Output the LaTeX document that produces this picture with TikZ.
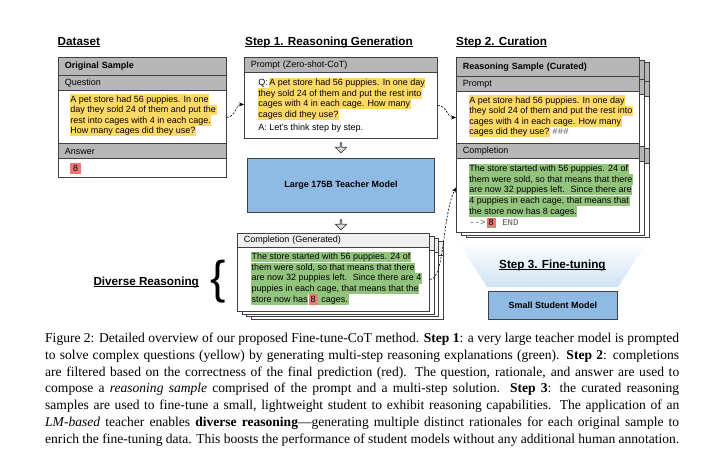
\documentclass[tikz,border=0pt]{standalone}
\usepackage{fontspec}
\setmainfont{Liberation Serif}
\setsansfont{Liberation Sans}
\setmonofont{Liberation Mono}
\usetikzlibrary{shapes.arrows,arrows.meta}
\definecolor{edge}{HTML}{404040}
\definecolor{hgray}{HTML}{B7B7B7}
\definecolor{lgray}{HTML}{EFEFEF}
\definecolor{agray}{HTML}{DDDDDD}
\definecolor{mgray}{HTML}{555555}
\definecolor{qyellow}{HTML}{FFD966}
\definecolor{cgreen}{HTML}{93C47D}
\definecolor{ared}{HTML}{F07777}
\definecolor{tblue}{HTML}{8EBAE3}
\definecolor{sblue}{HTML}{CFE2F3}
\newcommand\fs{\sffamily\fontsize{9}{10.5}\selectfont}
\newcommand\ttl{\sffamily\bfseries\fontsize{11.7}{13}\selectfont}
\newcommand\capfont{\rmfamily\fontsize{13.55}{16.74}\selectfont\hyphenpenalty=10000\tolerance=9999}
\tikzset{
  box/.style={draw=edge, fill=white, anchor=north west, inner sep=0, line width=0.9},
  row/.style={draw=edge, fill=hgray, anchor=north west, inner xsep=6.5, inner ysep=0, align=left, font=\fs, line width=0.9},
  qline/.style={fill=qyellow, anchor=north west, inner xsep=0.6, inner ysep=0, text height=7.8, text depth=2.7, font=\fs},
  cline/.style={qline, fill=cgreen},
  aline/.style={qline, fill=ared, inner xsep=2.2},
  pline/.style={qline, fill=none},
  mline/.style={pline, font=\fs\ttfamily, text=mgray},
  model/.style={draw=edge, fill=tblue, anchor=north west, font=\fs\bfseries, line width=0.9},
  down/.style={single arrow, draw=edge, fill=agray, shape border rotate=270, minimum height=10, minimum width=11, single arrow head extend=2.5, inner sep=0, line width=0.7},
  ttlnode/.style={anchor=base west, inner sep=0, font=\ttl},
  feed/.style={dash pattern=on 2pt off 1.5pt, line width=0.6, -{Stealth[length=5pt,width=4pt]}}
}
\begin{document}
\begin{tikzpicture}[x=1pt,y=-1pt]
  \useasboundingbox (0,0) rectangle (711,459);
  % titles
  \node[ttlnode] (t0) at (57.5,45) {\underline{\smash{Dataset}}};
  \node[ttlnode] (t1) at (245,45) {\underline{\smash{Step 1. Reasoning Generation}}};
  \node[ttlnode] (t2) at (456,45) {\underline{\smash{Step 2. Curation}}};
  \node[ttlnode] (dr) at (93.3,285) {\underline{\smash{Diverse Reasoning}}};
  \node[anchor=base west, inner sep=0, font=\sffamily\fontsize{46}{46}\selectfont] (brace) at (210.5,293) {\{};
  % original sample
  \node[box, minimum width=168, minimum height=120] (orig) at (58,57) {};
  \node[row, text width=155, minimum height=18] (oh) at (58,57) {\bfseries Original Sample};
  \node[row, text width=155, minimum height=15] (oqh) at (58,75) {Question};
  \node[qline] (oq1) at (69.5,94) {A pet store had 56 puppies. In one};
  \node[qline] (oq2) at (69.5,104.5) {day they sold 24 of them and put the};
  \node[qline] (oq3) at (69.5,115) {rest into cages with 4 in each cage.};
  \node[qline] (oq4) at (69.5,125.5) {How many cages did they use?};
  \node[row, text width=155, minimum height=15] (oah) at (58,143) {Answer};
  \node[aline, inner xsep=3] (oa) at (70,163) {8};
  % prompt
  \node[box, minimum width=193, minimum height=81] (prompt) at (244,57) {};
  \node[row, text width=180, minimum height=15] (ph) at (244,57) {Prompt (Zero-shot-CoT)};
  \node[pline] (pq) at (257.5,77.5) {Q:~};
  \node[qline] (pq1) at (pq.north east) {A pet store had 56 puppies. In one day};
  \node[qline] (pq2) at (257.5,88) {they sold 24 of them and put the rest into};
  \node[qline] (pq3) at (257.5,98.5) {cages with 4 in each cage. How many};
  \node[qline] (pq4) at (257.5,109) {cages did they use?};
  \node[pline] (pa) at (257.5,122.5) {A: Let’s think step by step.};
  \node[down] (d1) at (341,147.5) {};
  \node[model, minimum width=187, minimum height=54] (teacher) at (247,158) {Large 175B Teacher Model};
  \node[down] (d2) at (341,224.5) {};
  % generated completions
  \node[box, minimum width=192, minimum height=78] (g3) at (250.5,240.5) {};
  \node[row, fill=lgray, minimum width=192, minimum height=14] (g3h) at (250.5,240.5) {};
  \node[box, minimum width=192, minimum height=78] (g2) at (246,238) {};
  \node[row, fill=lgray, minimum width=192, minimum height=14] (g2h) at (246,238) {};
  \node[box, minimum width=192, minimum height=78] (g1) at (241.5,235.5) {};
  \node[row, fill=lgray, minimum width=192, minimum height=14] (g1h) at (241.5,235.5) {};
  \node[box, minimum width=192, minimum height=78] (gen) at (237,233) {};
  \node[row, fill=lgray, text width=179, minimum height=14] (genh) at (237,233) {Completion (Generated)};
  \node[cline] (gl1) at (250.7,251.7) {The store started with 56 puppies. 24 of};
  \node[cline] (gl2) at (250.7,262.3) {them were sold, so that means that there};
  \node[cline] (gl3) at (250.7,272.9) {are now 32 puppies left.~ Since there are 4};
  \node[cline] (gl4) at (250.7,283.5) {puppies in each cage, that means that the};
  \node[cline] (gl5) at (250.7,294.1) {store now has~};
  \node[aline] (g8) at (gl5.north east) {8};
  \node[cline] (gl6) at (g8.north east) {~cages.};
  % curated samples
  \node[box, minimum width=183, minimum height=175] (c2) at (466,62) {};
  \node[row, minimum width=183, minimum height=19] (c2h) at (466,62) {};
  \node[row, minimum width=183, minimum height=15] (c2p) at (466,81) {};
  \node[row, minimum width=183, minimum height=15] (c2c) at (466,148) {};
  \node[box, minimum width=183, minimum height=175] (c1) at (461,59.5) {};
  \node[row, minimum width=183, minimum height=19] (c1h) at (461,59.5) {};
  \node[row, minimum width=183, minimum height=15] (c1p) at (461,78.5) {};
  \node[row, minimum width=183, minimum height=15] (c1c) at (461,145.5) {};
  \node[box, minimum width=183, minimum height=175] (cur) at (456,57) {};
  \node[row, text width=170, minimum height=19] (ch) at (456,57) {\bfseries Reasoning Sample (Curated)};
  \node[row, text width=170, minimum height=15] (cph) at (456,76) {Prompt};
  \node[qline] (cq1) at (468.5,95) {A pet store had 56 puppies. In one day};
  \node[qline] (cq2) at (468.5,105.5) {they sold 24 of them and put the rest into};
  \node[qline] (cq3) at (468.5,116) {cages with 4 in each cage. How many};
  \node[qline] (cq4) at (468.5,126.5) {cages did they use?};
  \node[mline] (cs) at ([xshift=1.5pt]cq4.north east) {\#\#\#};
  \node[row, text width=170, minimum height=15] (cch) at (456,143) {Completion};
  \node[cline] (cc1) at (468.5,163.3) {The store started with 56 puppies. 24 of};
  \node[cline] (cc2) at (468.5,174) {them were sold, so that means that there};
  \node[cline] (cc3) at (468.5,184.7) {are now 32 puppies left.~ Since there are};
  \node[cline] (cc4) at (468.5,195.4) {4 puppies in each cage, that means that};
  \node[cline] (cc5) at (468.5,206.1) {the store now has 8 cages.};
  \node[mline] (ca) at (468.5,217.5) {-{}-{}>~};
  \node[aline] (c8) at (ca.north east) {8};
  \node[mline] (ce) at (c8.north east) {~END};
  % fine-tuning
  \shade[top color=white, bottom color=sblue] (458,242) -- (647,242) -- (618,287) -- (487,287) -- cycle;
  \node[ttlnode] (t3) at (499,268) {\underline{\smash{Step 3. Fine-tuning}}};
  \node[model, minimum width=129, minimum height=28] (student) at (488,291) {Small Student Model};
  % flow of samples
  \draw[feed] (orig.east) to[out=0,in=180] ([yshift=-6.5pt]prompt.west);
  \draw[feed] ([yshift=-7.5pt]prompt.east) to[out=0,in=180] ([yshift=27.5pt]cur.west);
  \draw[feed] ([yshift=-7pt]gen.east) .. controls +(15,0) and +(-14,28) .. ([yshift=-42.5pt]cur.west);
  % caption
  \node[anchor=north west, inner sep=0, text width=634, align=justify, font=\capfont] (cap) at (45,333) {Figure 2: Detailed overview of our proposed Fine-tune-CoT method. \textbf{Step 1}: a very large teacher model is prompted\linebreak
  to solve complex questions (yellow) by generating multi-step reasoning explanations (green). \textbf{Step 2}: completions\linebreak
  are filtered based on the correctness of the final prediction (red). The question, rationale, and answer are used to\linebreak
  compose a \textit{reasoning sample} comprised of the prompt and a multi-step solution. \textbf{Step 3}: the curated reasoning\linebreak
  samples are used to fine-tune a small, lightweight student to exhibit reasoning capabilities. The application of an\linebreak
  \textit{LM-based} teacher enables \textbf{diverse reasoning}—generating multiple distinct rationales for each original sample to\linebreak
  enrich the fine-tuning data. This boosts the performance of student models without any additional human annotation.};
\end{tikzpicture}
\end{document}
